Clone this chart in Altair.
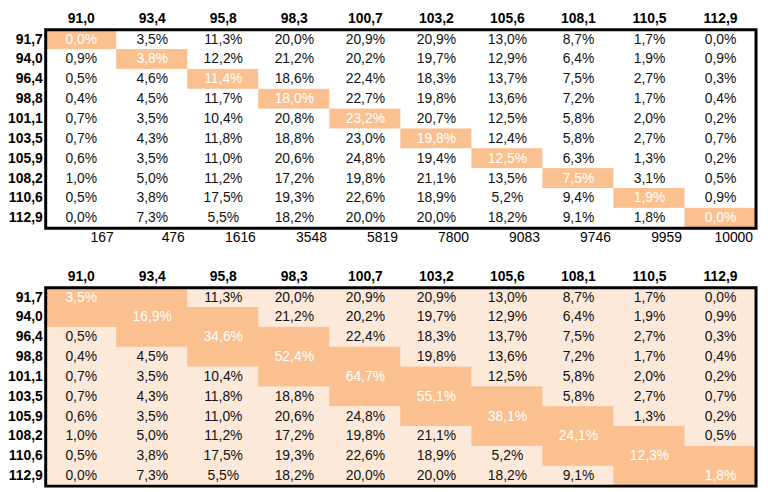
import altair as alt
import pandas as pd

# ---- data ----
col_labels = ["91,0", "93,4", "95,8", "98,3", "100,7", "103,2", "105,6", "108,1", "110,5", "112,9"]
row_labels = ["91,7", "94,0", "96,4", "98,8", "101,1", "103,5", "105,9", "108,2", "110,6", "112,9"]
cum_counts = ["167", "476", "1616", "3548", "5819", "7800", "9083", "9746", "9959", "10000"]

row_91_7 = [0.0, 3.5, 11.3, 20.0, 20.9, 20.9, 13.0, 8.7, 1.7, 0.0]
row_94_0 = [0.9, 3.8, 12.2, 21.2, 20.2, 19.7, 12.9, 6.4, 1.9, 0.9]
row_96_4 = [0.5, 4.6, 11.4, 18.6, 22.4, 18.3, 13.7, 7.5, 2.7, 0.3]
row_98_8 = [0.4, 4.5, 11.7, 18.0, 22.7, 19.8, 13.6, 7.2, 1.7, 0.4]
row_101_1 = [0.7, 3.5, 10.4, 20.8, 23.2, 20.7, 12.5, 5.8, 2.0, 0.2]
row_103_5 = [0.7, 4.3, 11.8, 18.8, 23.0, 19.8, 12.4, 5.8, 2.7, 0.7]
row_105_9 = [0.6, 3.5, 11.0, 20.6, 24.8, 19.4, 12.5, 6.3, 1.3, 0.2]
row_108_2 = [1.0, 5.0, 11.2, 17.2, 19.8, 21.1, 13.5, 7.5, 3.1, 0.5]
row_110_6 = [0.5, 3.8, 17.5, 19.3, 22.6, 18.9, 5.2, 9.4, 1.9, 0.9]
row_112_9 = [0.0, 7.3, 5.5, 18.2, 20.0, 20.0, 18.2, 9.1, 1.8, 0.0]

band_totals = [3.5, 16.9, 34.6, 52.4, 64.7, 55.1, 38.1, 24.1, 12.3, 1.8]

shares = [row_91_7, row_94_0, row_96_4, row_98_8, row_101_1,
          row_103_5, row_105_9, row_108_2, row_110_6, row_112_9]


def fmt(v):
    return f"{v:.1f}".replace(".", ",") + "%"


ncol, nrow = len(col_labels), len(row_labels)
# layout in row slots: header, body rows, counts row, gap, header, body rows
HDR1 = 0
TOP0 = HDR1 + 1
CNT = TOP0 + nrow
HDR2 = CNT + 2
BOT0 = HDR2 + 1

cells, heads, rlabs, cnts, frames = [], [], [], [], []
for i, r in enumerate(row_labels):
    for j, c in enumerate(col_labels):
        diag = i == j
        in_band = abs(i - j) <= 1
        # top table
        cells.append({"x0": j, "x1": j + 1, "xc": j + 0.5,
                      "y0": TOP0 + i, "y1": TOP0 + i + 1, "yc": TOP0 + i + 0.5,
                      "label": fmt(shares[i][j]),
                      "kind": "hl" if diag else "plain",
                      "tone": "white" if diag else "dark"})
        # bottom table
        if diag:
            lab = fmt(band_totals[i])
        elif in_band:
            lab = ""
        else:
            lab = fmt(shares[i][j])
        cells.append({"x0": j, "x1": j + 1, "xc": j + 0.5,
                      "y0": BOT0 + i, "y1": BOT0 + i + 1, "yc": BOT0 + i + 0.5,
                      "label": lab,
                      "kind": "hl" if in_band else "light",
                      "tone": "white" if diag else "dark"})
    for start in (TOP0, BOT0):
        rlabs.append({"x": 0, "yc": start + i + 0.5, "label": r})

for j, c in enumerate(col_labels):
    for hs in (HDR1, HDR2):
        heads.append({"xc": j + 0.5, "yc": hs + 0.5, "label": c})
    cnts.append({"x": j + 1, "yc": CNT + 0.5, "label": cum_counts[j]})

for start in (TOP0, BOT0):
    frames.append({"x0": 0, "x1": ncol, "y0": start, "y1": start + nrow})

cells_df = pd.DataFrame(cells)
heads_df = pd.DataFrame(heads)
rlabs_df = pd.DataFrame(rlabs)
cnts_df = pd.DataFrame(cnts)
frames_df = pd.DataFrame(frames)

FONT = "Liberation Sans"
HL = "#FAC090"
LIGHT = "#FDE9D9"
W, H = 758, 484
LEFT_PX, COL_PX, ROW_PX = 38.0, 71.6, 20.0

xs = alt.Scale(domain=[-LEFT_PX / COL_PX, (W - LEFT_PX) / COL_PX], nice=False, zero=False)
ys = alt.Scale(domain=[0, H / ROW_PX], reverse=True, nice=False, zero=False)

kind_scale = alt.Scale(domain=["plain", "light", "hl"], range=["#FFFFFF", LIGHT, HL])
tone_scale = alt.Scale(domain=["dark", "white"], range=["#111111", "#FFFFFF"])

rects = alt.Chart(cells_df).mark_rect(strokeWidth=1).encode(
    x=alt.X("x0:Q", scale=xs, axis=None), x2="x1:Q",
    y=alt.Y("y0:Q", scale=ys, axis=None), y2="y1:Q",
    fill=alt.Fill("kind:N", scale=kind_scale, legend=None),
    stroke=alt.Stroke("kind:N", scale=kind_scale, legend=None))

cell_text = alt.Chart(cells_df).mark_text(font=FONT, fontSize=14).encode(
    x=alt.X("xc:Q", scale=xs, axis=None),
    y=alt.Y("yc:Q", scale=ys, axis=None),
    text="label:N",
    color=alt.Color("tone:N", scale=tone_scale, legend=None))

head_text = alt.Chart(heads_df).mark_text(font=FONT, fontSize=14, fontWeight="bold",
                                          color="#000000", dy=-1).encode(
    x=alt.X("xc:Q", scale=xs, axis=None),
    y=alt.Y("yc:Q", scale=ys, axis=None),
    text="label:N")

row_text = alt.Chart(rlabs_df).mark_text(font=FONT, fontSize=14, fontWeight="bold",
                                         color="#000000", align="right", dx=-3).encode(
    x=alt.X("x:Q", scale=xs, axis=None),
    y=alt.Y("yc:Q", scale=ys, axis=None),
    text="label:N")

count_text = alt.Chart(cnts_df).mark_text(font=FONT, fontSize=14, color="#000000",
                                          align="right", dx=-3).encode(
    x=alt.X("x:Q", scale=xs, axis=None),
    y=alt.Y("yc:Q", scale=ys, axis=None),
    text="label:N")

frame = alt.Chart(frames_df).mark_rect(fillOpacity=0, stroke="#000000", strokeWidth=3).encode(
    x=alt.X("x0:Q", scale=xs, axis=None), x2="x1:Q",
    y=alt.Y("y0:Q", scale=ys, axis=None), y2="y1:Q")

chart = alt.layer(rects, cell_text, head_text, row_text, count_text, frame).properties(
    width=W, height=H, padding=0, autosize=alt.AutoSizeParams(type="none"),
    background="#FFFFFF"
).configure_view(stroke="transparent")

chart.save("out.html", embed_options={"renderer": "svg", "actions": False})
